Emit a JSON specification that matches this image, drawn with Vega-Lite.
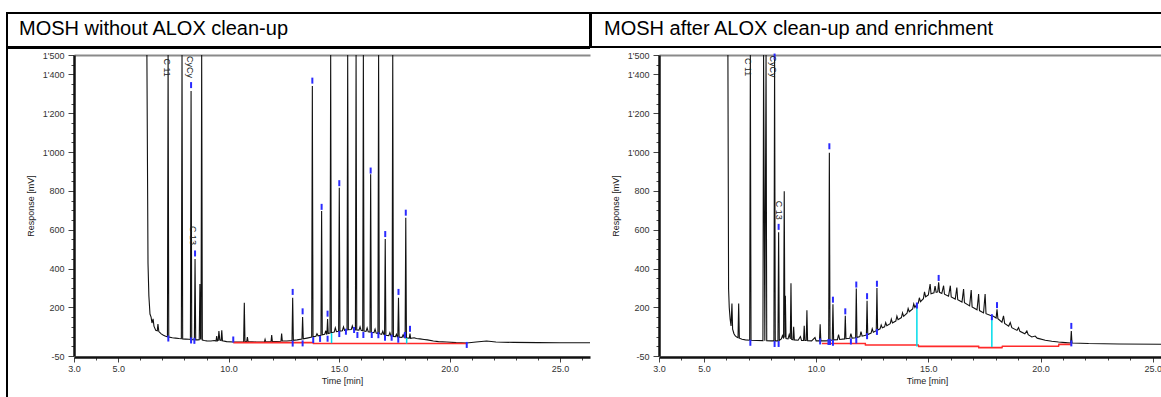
{
  "$schema": "https://vega.github.io/schema/vega-lite/v6.json",
  "padding": {"left": 6, "top": 12, "right": 0, "bottom": 0},
  "spacing": -2,
  "config": {
    "font": "Liberation Sans",
    "view": {"stroke": null},
    "axis": {"grid": false}
  },
  "datasets": {
    "leftTrace": [
      {"t":6.30,"r":3000},{"t":6.35,"r":429},{"t":6.39,"r":259},{"t":6.44,"r":166},{"t":6.49,"r":150},{"t":6.53,"r":120},{"t":6.58,"r":141},{"t":6.62,"r":104},{"t":6.70,"r":82},{"t":6.77,"r":80},{"t":6.80,"r":115},{"t":6.84,"r":76},{"t":6.95,"r":64},{"t":7.05,"r":57},{"t":7.15,"r":52},{"t":7.23,"r":49},{"t":7.26,"r":3000},{"t":7.29,"r":48},{"t":7.45,"r":44},{"t":7.60,"r":42},{"t":7.75,"r":40},{"t":7.86,"r":39},{"t":7.89,"r":3000},{"t":7.92,"r":38},{"t":8.05,"r":37},{"t":8.20,"r":36},{"t":8.27,"r":35},{"t":8.30,"r":1315},{"t":8.33,"r":34},{"t":8.40,"r":34},{"t":8.45,"r":34},{"t":8.48,"r":450},{"t":8.51,"r":33},{"t":8.60,"r":33},{"t":8.67,"r":34},{"t":8.70,"r":321},{"t":8.73,"r":40},{"t":8.75,"r":35},{"t":8.78,"r":3000},{"t":8.81,"r":32},{"t":8.90,"r":30},{"t":9.01,"r":28},{"t":9.20,"r":27},{"t":9.35,"r":30},{"t":9.43,"r":27},{"t":9.46,"r":53},{"t":9.49,"r":28},{"t":9.53,"r":30},{"t":9.56,"r":79},{"t":9.60,"r":32},{"t":9.66,"r":30},{"t":9.69,"r":82},{"t":9.72,"r":28},{"t":9.91,"r":24},{"t":10.21,"r":22},{"t":10.50,"r":22},{"t":10.68,"r":23},{"t":10.71,"r":224},{"t":10.74,"r":24},{"t":10.82,"r":25},{"t":10.85,"r":48},{"t":10.88,"r":24},{"t":11.27,"r":22},{"t":11.62,"r":23},{"t":11.65,"r":36},{"t":11.68,"r":23},{"t":11.92,"r":24},{"t":11.95,"r":58},{"t":11.98,"r":24},{"t":12.37,"r":26},{"t":12.40,"r":65},{"t":12.43,"r":27},{"t":12.63,"r":27},{"t":12.87,"r":30},{"t":12.90,"r":250},{"t":12.93,"r":31},{"t":13.10,"r":33},{"t":13.32,"r":37},{"t":13.35,"r":151},{"t":13.38,"r":38},{"t":13.55,"r":42},{"t":13.76,"r":47},{"t":13.79,"r":1340},{"t":13.82,"r":49},{"t":13.95,"r":52},{"t":14.00,"r":65},{"t":14.05,"r":54},{"t":14.18,"r":57},{"t":14.21,"r":697},{"t":14.24,"r":59},{"t":14.35,"r":62},{"t":14.40,"r":80},{"t":14.43,"r":63},{"t":14.45,"r":64},{"t":14.48,"r":140},{"t":14.51,"r":66},{"t":14.59,"r":68},{"t":14.62,"r":3000},{"t":14.65,"r":70},{"t":14.78,"r":73},{"t":14.83,"r":95},{"t":14.88,"r":75},{"t":14.98,"r":77},{"t":15.01,"r":817},{"t":15.04,"r":78},{"t":15.15,"r":80},{"t":15.20,"r":100},{"t":15.25,"r":82},{"t":15.36,"r":84},{"t":15.39,"r":3000},{"t":15.42,"r":85},{"t":15.55,"r":86},{"t":15.60,"r":105},{"t":15.65,"r":86},{"t":15.74,"r":85},{"t":15.77,"r":3000},{"t":15.80,"r":84},{"t":15.90,"r":83},{"t":15.95,"r":100},{"t":16.00,"r":82},{"t":16.07,"r":80},{"t":16.10,"r":3000},{"t":16.13,"r":79},{"t":16.22,"r":77},{"t":16.27,"r":95},{"t":16.32,"r":75},{"t":16.40,"r":73},{"t":16.43,"r":886},{"t":16.46,"r":72},{"t":16.58,"r":70},{"t":16.63,"r":88},{"t":16.68,"r":68},{"t":16.76,"r":66},{"t":16.79,"r":3000},{"t":16.82,"r":65},{"t":16.93,"r":62},{"t":16.98,"r":78},{"t":17.03,"r":60},{"t":17.06,"r":59},{"t":17.09,"r":553},{"t":17.12,"r":57},{"t":17.25,"r":55},{"t":17.30,"r":70},{"t":17.35,"r":53},{"t":17.40,"r":52},{"t":17.43,"r":3000},{"t":17.46,"r":51},{"t":17.55,"r":50},{"t":17.60,"r":62},{"t":17.63,"r":49},{"t":17.66,"r":48},{"t":17.69,"r":250},{"t":17.72,"r":47},{"t":17.85,"r":46},{"t":17.90,"r":60},{"t":17.95,"r":45},{"t":17.99,"r":44},{"t":18.02,"r":662},{"t":18.05,"r":43},{"t":18.18,"r":42},{"t":18.21,"r":65},{"t":18.24,"r":41},{"t":18.40,"r":44},{"t":18.50,"r":40},{"t":18.66,"r":38},{"t":18.85,"r":35},{"t":19.0,"r":33},{"t":19.27,"r":27},{"t":19.5,"r":24},{"t":19.87,"r":22},{"t":20.3,"r":19},{"t":20.78,"r":17},{"t":21.2,"r":22},{"t":21.68,"r":27},{"t":22.1,"r":22},{"t":22.89,"r":20},{"t":24.0,"r":19},{"t":25.0,"r":18},{"t":25.91,"r":18},{"t":26.36,"r":18}
    ],
    "rightTrace": [
      {"t":6.07,"r":3000},{"t":6.10,"r":296},{"t":6.13,"r":200},{"t":6.17,"r":140},{"t":6.21,"r":105},{"t":6.25,"r":220},{"t":6.28,"r":88},{"t":6.34,"r":65},{"t":6.40,"r":53},{"t":6.48,"r":46},{"t":6.52,"r":44},{"t":6.55,"r":220},{"t":6.58,"r":42},{"t":6.70,"r":36},{"t":6.85,"r":33},{"t":7.04,"r":31},{"t":7.07,"r":3000},{"t":7.10,"r":31},{"t":7.35,"r":30},{"t":7.63,"r":29},{"t":7.66,"r":3000},{"t":7.715,"r":29},{"t":7.77,"r":3000},{"t":7.80,"r":29},{"t":8.00,"r":28},{"t":8.12,"r":28},{"t":8.15,"r":1480},{"t":8.18,"r":28},{"t":8.30,"r":28},{"t":8.33,"r":587},{"t":8.36,"r":30},{"t":8.45,"r":38},{"t":8.50,"r":55},{"t":8.55,"r":40},{"t":8.58,"r":798},{"t":8.61,"r":45},{"t":8.63,"r":260},{"t":8.66,"r":40},{"t":8.75,"r":38},{"t":8.80,"r":60},{"t":8.85,"r":38},{"t":8.88,"r":325},{"t":8.91,"r":36},{"t":8.97,"r":34},{"t":9.00,"r":100},{"t":9.03,"r":33},{"t":9.20,"r":31},{"t":9.30,"r":50},{"t":9.35,"r":30},{"t":9.44,"r":30},{"t":9.47,"r":105},{"t":9.50,"r":30},{"t":9.56,"r":30},{"t":9.59,"r":186},{"t":9.62,"r":29},{"t":9.80,"r":28},{"t":9.95,"r":45},{"t":10.0,"r":28},{"t":10.15,"r":28},{"t":10.18,"r":114},{"t":10.21,"r":28},{"t":10.40,"r":28},{"t":10.56,"r":29},{"t":10.59,"r":996},{"t":10.62,"r":30},{"t":10.72,"r":32},{"t":10.75,"r":217},{"t":10.78,"r":33},{"t":10.95,"r":34},{"t":11.00,"r":60},{"t":11.05,"r":35},{"t":11.27,"r":38},{"t":11.30,"r":157},{"t":11.33,"r":39},{"t":11.50,"r":41},{"t":11.55,"r":65},{"t":11.60,"r":42},{"t":11.76,"r":44},{"t":11.79,"r":298},{"t":11.82,"r":45},{"t":11.95,"r":50},{"t":12.00,"r":75},{"t":12.05,"r":52},{"t":12.24,"r":58},{"t":12.27,"r":234},{"t":12.30,"r":60},{"t":12.45,"r":68},{"t":12.50,"r":90},{"t":12.55,"r":72},{"t":12.68,"r":80},{"t":12.71,"r":300},{"t":12.74,"r":83},{"t":12.85,"r":90},{"t":12.90,"r":110},{"t":12.95,"r":95},{"t":13.05,"r":100},{"t":13.10,"r":122},{"t":13.15,"r":106},{"t":13.30,"r":116},{"t":13.35,"r":140},{"t":13.40,"r":120},{"t":13.55,"r":130},{"t":13.60,"r":155},{"t":13.65,"r":137},{"t":13.80,"r":148},{"t":13.85,"r":172},{"t":13.90,"r":154},{"t":14.05,"r":170},{"t":14.10,"r":195},{"t":14.15,"r":178},{"t":14.30,"r":192},{"t":14.35,"r":218},{"t":14.40,"r":200},{"t":14.49,"r":217},{"t":14.55,"r":222},{"t":14.60,"r":250},{"t":14.65,"r":230},{"t":14.78,"r":245},{"t":14.83,"r":280},{"t":14.88,"r":255},{"t":15.00,"r":265},{"t":15.08,"r":320},{"t":15.12,"r":270},{"t":15.25,"r":275},{"t":15.30,"r":310},{"t":15.35,"r":278},{"t":15.42,"r":280},{"t":15.46,"r":329},{"t":15.50,"r":278},{"t":15.60,"r":272},{"t":15.68,"r":312},{"t":15.72,"r":268},{"t":15.90,"r":258},{"t":15.98,"r":312},{"t":16.02,"r":254},{"t":16.20,"r":243},{"t":16.27,"r":303},{"t":16.31,"r":240},{"t":16.50,"r":228},{"t":16.57,"r":295},{"t":16.61,"r":224},{"t":16.84,"r":208},{"t":16.91,"r":290},{"t":16.95,"r":203},{"t":17.17,"r":188},{"t":17.24,"r":269},{"t":17.28,"r":184},{"t":17.46,"r":172},{"t":17.53,"r":269},{"t":17.57,"r":168},{"t":17.75,"r":160},{"t":17.83,"r":157},{"t":17.90,"r":155},{"t":18.02,"r":146},{"t":18.06,"r":191},{"t":18.10,"r":142},{"t":18.28,"r":124},{"t":18.35,"r":157},{"t":18.40,"r":118},{"t":18.58,"r":104},{"t":18.65,"r":122},{"t":18.72,"r":96},{"t":18.95,"r":82},{"t":19.02,"r":96},{"t":19.08,"r":77},{"t":19.30,"r":64},{"t":19.39,"r":79},{"t":19.45,"r":60},{"t":19.61,"r":48},{"t":19.76,"r":53},{"t":19.85,"r":42},{"t":20.21,"r":31},{"t":20.50,"r":26},{"t":20.80,"r":22},{"t":21.10,"r":19},{"t":21.34,"r":17},{"t":21.37,"r":79},{"t":21.40,"r":17},{"t":22.14,"r":14},{"t":23.5,"r":12},{"t":25.5,"r":10}
    ],
    "leftRed": [{"t":10.21,"r":19},{"t":13.82,"r":19},{"t":13.84,"r":14},{"t":20.78,"r":14}],
    "rightRed": [{"t":10.26,"r":14},{"t":12.19,"r":14},{"t":12.20,"r":7},{"t":14.55,"r":7},{"t":14.57,"r":-0.5},{"t":17.24,"r":-0.5},{"t":17.25,"r":-7},{"t":18.28,"r":-7},{"t":18.30,"r":0},{"t":20.80,"r":0},{"t":20.82,"r":10},{"t":21.40,"r":10}],
    "leftCyan": [{"t":14.66,"r":68,"r2":16},{"t":18.06,"r":43,"r2":14}],
    "rightCyan": [{"t":14.49,"r":217,"r2":-1},{"t":17.83,"r":157,"r2":-4}],
    "leftMarks": [
      {"t":8.30,"r":1345},{"t":8.48,"r":478},{"t":12.90,"r":280},{"t":13.35,"r":180},{"t":13.79,"r":1368},{"t":14.21,"r":718},{"t":14.48,"r":168},{"t":15.01,"r":840},{"t":16.43,"r":905},{"t":17.09,"r":578},{"t":17.69,"r":280},{"t":18.02,"r":688},{"t":18.21,"r":90},
      {"t":7.27,"r":40},{"t":8.30,"r":30},{"t":8.45,"r":28},{"t":10.21,"r":35},{"t":12.90,"r":14},{"t":13.35,"r":15},{"t":13.83,"r":32},{"t":14.14,"r":38},{"t":14.48,"r":39},{"t":15.01,"r":63},{"t":15.31,"r":75},{"t":15.68,"r":84},{"t":15.83,"r":58},{"t":16.10,"r":58},{"t":16.48,"r":58},{"t":16.78,"r":57},{"t":17.08,"r":44},{"t":17.38,"r":44},{"t":17.68,"r":34},{"t":17.98,"r":58},{"t":20.78,"r":7}
    ],
    "rightMarks": [
      {"t":8.15,"r":1492},{"t":8.33,"r":615},{"t":10.59,"r":1030},{"t":10.75,"r":240},{"t":11.30,"r":180},{"t":11.79,"r":318},{"t":12.27,"r":258},{"t":12.71,"r":322},{"t":15.46,"r":352},{"t":18.06,"r":212},{"t":21.37,"r":105},
      {"t":7.07,"r":18},{"t":8.15,"r":12},{"t":8.33,"r":12},{"t":10.18,"r":25},{"t":10.55,"r":22},{"t":10.62,"r":22},{"t":10.75,"r":18},{"t":11.55,"r":25},{"t":11.79,"r":30},{"t":12.27,"r":52},{"t":12.71,"r":74},{"t":14.49,"r":210},{"t":17.83,"r":150},{"t":21.37,"r":15}
    ],
    "leftLabels": [{"t":7.19,"r":1482,"label":"C 11"},{"t":8.25,"r":1495,"label":"CyCy"},{"t":8.37,"r":620,"label":"C 13"}],
    "rightLabels": [{"t":6.98,"r":1485,"label":"C 11"},{"t":8.08,"r":1498,"label":"CyCy"},{"t":8.33,"r":750,"label":"C 13"}]
  },
  "vconcat": [
    {
      "spacing": -2,
      "hconcat": [
        {
          "width": 583, "height": 34,
          "view": {"stroke": "black", "strokeWidth": 2},
          "data": {"values": []},
          "mark": "text",
          "title": {"text": "MOSH without ALOX clean-up", "anchor": "start", "frame": "group", "orient": "top", "offset": -42, "dx": 12, "fontSize": 20, "fontWeight": "normal", "font": "Liberation Sans", "color": "black", "baseline": "alphabetic"}
        },
        {
          "width": 575, "height": 34,
          "view": {"stroke": "black", "strokeWidth": 2},
          "data": {"values": []},
          "mark": "text",
          "title": {"text": "MOSH after ALOX clean-up and enrichment", "anchor": "start", "frame": "group", "orient": "top", "offset": -42, "dx": 13, "fontSize": 20, "fontWeight": "normal", "font": "Liberation Sans", "color": "black", "baseline": "alphabetic"}
        }
      ]
    },
    {
      "spacing": -2,
      "hconcat": [
        {
          "width": 583, "height": 353,
          "view": {"stroke": "black", "strokeWidth": 2, "strokeDash": [583, 936, 353, 1000]},
          "resolve": {"axis": {"x": "independent", "y": "independent"}},
          "layer": [
            {
              "data": {"name": "leftTrace"},
              "mark": {"type": "line", "color": "#111", "strokeWidth": 1.1},
              "encoding": {
                "x": {"field": "t", "type": "quantitative", "scale": {"domain": [3, 26.36], "range": [67, 583], "nice": false, "zero": false},
                  "axis": {"title": "Time [min]", "offset": -44, "values": [3,4,5,6,7,8,9,10,11,12,13,14,15,16,17,18,19,20,21,22,23,24,25,26],
                    "labelExpr": "indexof([3,5,10,15,20,25], datum.value) >= 0 ? format(datum.value, '.1f') : ''",
                    "tickSize": {"condition": {"test": "indexof([3,5,10,15,20,25], datum.value) >= 0", "value": 5}, "value": 3},
                    "labelFontSize": 9, "labelColor": "#333", "labelPadding": 2, "tickColor": "#444", "domainColor": "#111", "domainWidth": 2.5,
                    "titleFontSize": 9, "titleFontWeight": "normal", "titleColor": "#222", "titlePadding": 3, "titleX": 335,
                    "labelOverlap": false, "labelFlush": false, "grid": false}},
                "y": {"field": "r", "type": "quantitative", "scale": {"domain": [-50, 1500], "range": [308, 7], "clamp": true, "nice": false, "zero": false},
                  "axis": {"title": "Response [mV]", "offset": -67, "values": [-50,0,50,100,150,200,250,300,350,400,450,500,550,600,650,700,750,800,850,900,950,1000,1050,1100,1150,1200,1250,1300,1350,1400,1450,1500],
                    "labelExpr": "indexof([-50,200,400,600,800,1000,1200,1400,1500], datum.value) >= 0 ? (datum.value >= 1000 ? '1\\'' + slice('' + datum.value, 1) : '' + datum.value) : ''",
                    "tickSize": {"condition": {"test": "indexof([-50,200,400,600,800,1000,1200,1400,1500], datum.value) >= 0", "value": 6}, "value": 3},
                    "labelFontSize": 9, "labelColor": "#333", "labelPadding": 4, "tickColor": "#444", "domainColor": "#111", "domainWidth": 2.5,
                    "titleFontSize": 9, "titleFontWeight": "normal", "titleColor": "#222", "titlePadding": 7,
                    "labelOverlap": false, "labelFlush": false, "grid": false}}
              }
            },
            {
              "data": {"name": "leftRed"},
              "mark": {"type": "line", "color": "#ff2a2a", "strokeWidth": 1.6},
              "encoding": {
                "x": {"field": "t", "type": "quantitative", "scale": {"domain": [3, 26.36], "range": [67, 583], "nice": false, "zero": false},
                  "axis": {"orient": "top", "offset": -7, "labels": false, "ticks": false, "domainColor": "#8a8a8a", "domainWidth": 2, "title": null, "grid": false}},
                "y": {"field": "r", "type": "quantitative", "scale": {"domain": [-50, 1500], "range": [308, 7], "clamp": true, "nice": false, "zero": false}, "axis": null}
              }
            },
            {
              "data": {"name": "leftCyan"},
              "mark": {"type": "rule", "color": "#00dcea", "strokeWidth": 1.5},
              "encoding": {
                "x": {"field": "t", "type": "quantitative", "scale": {"domain": [3, 26.36], "range": [67, 583], "nice": false, "zero": false}, "axis": null},
                "y": {"field": "r", "type": "quantitative", "scale": {"domain": [-50, 1500], "range": [308, 7], "clamp": true, "nice": false, "zero": false}, "axis": null},
                "y2": {"field": "r2"}
              }
            },
            {
              "data": {"name": "leftMarks"},
              "mark": {"type": "tick", "orient": "vertical", "color": "#2a2aff", "opacity": 1, "size": 6, "thickness": 2},
              "encoding": {
                "x": {"field": "t", "type": "quantitative", "scale": {"domain": [3, 26.36], "range": [67, 583], "nice": false, "zero": false}, "axis": null},
                "y": {"field": "r", "type": "quantitative", "scale": {"domain": [-50, 1500], "range": [308, 7], "clamp": true, "nice": false, "zero": false}, "axis": null}
              }
            },
            {
              "data": {"name": "leftLabels"},
              "mark": {"type": "text", "angle": 90, "align": "left", "baseline": "middle", "fontSize": 9, "color": "#222"},
              "encoding": {
                "x": {"field": "t", "type": "quantitative", "scale": {"domain": [3, 26.36], "range": [67, 583], "nice": false, "zero": false}, "axis": null},
                "y": {"field": "r", "type": "quantitative", "scale": {"domain": [-50, 1500], "range": [308, 7], "clamp": true, "nice": false, "zero": false}, "axis": null},
                "text": {"field": "label"}
              }
            }
          ]
        },
        {
          "width": 575, "height": 353,
          "view": {"stroke": null},
          "resolve": {"axis": {"x": "independent", "y": "independent"}},
          "layer": [
            {
              "data": {"name": "rightTrace"},
              "mark": {"type": "line", "color": "#111", "strokeWidth": 1.1},
              "encoding": {
                "x": {"field": "t", "type": "quantitative", "scale": {"domain": [3, 25.5], "range": [65, 570], "nice": false, "zero": false},
                  "axis": {"title": "Time [min]", "offset": -44, "values": [3,4,5,6,7,8,9,10,11,12,13,14,15,16,17,18,19,20,21,22,23,24,25],
                    "labelExpr": "indexof([3,5,10,15,20,25], datum.value) >= 0 ? format(datum.value, '.1f') : ''",
                    "tickSize": {"condition": {"test": "indexof([3,5,10,15,20,25], datum.value) >= 0", "value": 5}, "value": 3},
                    "labelFontSize": 9, "labelColor": "#333", "labelPadding": 2, "tickColor": "#444", "domainColor": "#111", "domainWidth": 2.5,
                    "titleFontSize": 9, "titleFontWeight": "normal", "titleColor": "#222", "titlePadding": 3, "titleX": 333,
                    "labelOverlap": false, "labelFlush": false, "grid": false}},
                "y": {"field": "r", "type": "quantitative", "scale": {"domain": [-50, 1500], "range": [308, 7], "clamp": true, "nice": false, "zero": false},
                  "axis": {"title": "Response [mV]", "offset": -65, "values": [-50,0,50,100,150,200,250,300,350,400,450,500,550,600,650,700,750,800,850,900,950,1000,1050,1100,1150,1200,1250,1300,1350,1400,1450,1500],
                    "labelExpr": "indexof([-50,200,400,600,800,1000,1200,1400,1500], datum.value) >= 0 ? (datum.value >= 1000 ? '1\\'' + slice('' + datum.value, 1) : '' + datum.value) : ''",
                    "tickSize": {"condition": {"test": "indexof([-50,200,400,600,800,1000,1200,1400,1500], datum.value) >= 0", "value": 6}, "value": 3},
                    "labelFontSize": 9, "labelColor": "#333", "labelPadding": 4, "tickColor": "#444", "domainColor": "#111", "domainWidth": 2.5,
                    "titleFontSize": 9, "titleFontWeight": "normal", "titleColor": "#222", "titlePadding": 7,
                    "labelOverlap": false, "labelFlush": false, "grid": false}}
              }
            },
            {
              "data": {"name": "rightRed"},
              "mark": {"type": "line", "color": "#ff2a2a", "strokeWidth": 1.6},
              "encoding": {
                "x": {"field": "t", "type": "quantitative", "scale": {"domain": [3, 25.5], "range": [65, 570], "nice": false, "zero": false},
                  "axis": {"orient": "top", "offset": -7, "labels": false, "ticks": false, "domainColor": "#8a8a8a", "domainWidth": 2, "title": null, "grid": false}},
                "y": {"field": "r", "type": "quantitative", "scale": {"domain": [-50, 1500], "range": [308, 7], "clamp": true, "nice": false, "zero": false}, "axis": null}
              }
            },
            {
              "data": {"name": "rightCyan"},
              "mark": {"type": "rule", "color": "#00dcea", "strokeWidth": 1.5},
              "encoding": {
                "x": {"field": "t", "type": "quantitative", "scale": {"domain": [3, 25.5], "range": [65, 570], "nice": false, "zero": false}, "axis": null},
                "y": {"field": "r", "type": "quantitative", "scale": {"domain": [-50, 1500], "range": [308, 7], "clamp": true, "nice": false, "zero": false}, "axis": null},
                "y2": {"field": "r2"}
              }
            },
            {
              "data": {"name": "rightMarks"},
              "mark": {"type": "tick", "orient": "vertical", "color": "#2a2aff", "opacity": 1, "size": 6, "thickness": 2},
              "encoding": {
                "x": {"field": "t", "type": "quantitative", "scale": {"domain": [3, 25.5], "range": [65, 570], "nice": false, "zero": false}, "axis": null},
                "y": {"field": "r", "type": "quantitative", "scale": {"domain": [-50, 1500], "range": [308, 7], "clamp": true, "nice": false, "zero": false}, "axis": null}
              }
            },
            {
              "data": {"name": "rightLabels"},
              "mark": {"type": "text", "angle": 90, "align": "left", "baseline": "middle", "fontSize": 9, "color": "#222"},
              "encoding": {
                "x": {"field": "t", "type": "quantitative", "scale": {"domain": [3, 25.5], "range": [65, 570], "nice": false, "zero": false}, "axis": null},
                "y": {"field": "r", "type": "quantitative", "scale": {"domain": [-50, 1500], "range": [308, 7], "clamp": true, "nice": false, "zero": false}, "axis": null},
                "text": {"field": "label"}
              }
            }
          ]
        }
      ]
    }
  ]
}
